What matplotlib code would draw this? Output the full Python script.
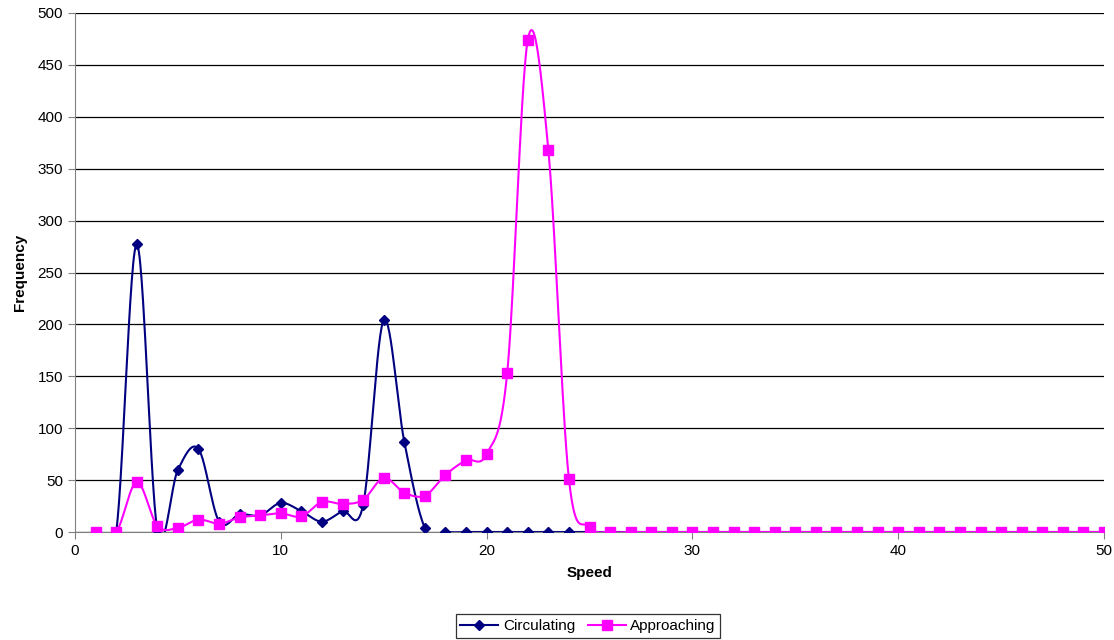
import numpy as np
import matplotlib
matplotlib.use("Agg")
import matplotlib.pyplot as plt

plt.rcParams['font.family'] = ['Liberation Sans', 'DejaVu Sans']

speed = list(range(1, 51))
circulating = [0, 0, 277, 2, 60, 80, 10, 17, 16, 28, 20, 10, 20, 26, 204, 87, 4] + [0] * 33
approaching = [0, 0, 48, 6, 4, 12, 8, 14, 16, 18, 15, 29, 27, 31, 52, 38, 35, 55, 69, 75,
               153, 474, 368, 51, 5] + [0] * 25
x_ticks = [0, 10, 20, 30, 40, 50]
y_ticks = list(range(0, 501, 50))


def smooth(xs, ys, n=30):
    xs = np.asarray(xs, float)
    ys = np.asarray(ys, float)
    px = np.concatenate([[xs[0]], xs, [xs[-1]]])
    py = np.concatenate([[ys[0]], ys, [ys[-1]]])
    ox, oy = [], []
    t = np.linspace(0, 1, n)
    for i in range(1, len(px) - 2):
        p0 = np.array([px[i], py[i]])
        p3 = np.array([px[i + 1], py[i + 1]])
        c1 = p0 + (np.array([px[i + 1], py[i + 1]]) - np.array([px[i - 1], py[i - 1]])) / 6
        c2 = p3 - (np.array([px[i + 2], py[i + 2]]) - np.array([px[i], py[i]])) / 6
        b = ((1 - t) ** 3)[:, None] * p0 + (3 * (1 - t) ** 2 * t)[:, None] * c1 + \
            (3 * (1 - t) * t ** 2)[:, None] * c2 + (t ** 3)[:, None] * p3
        ox.extend(b[:, 0])
        oy.extend(b[:, 1])
    return ox, oy


fig = plt.figure(figsize=(11.14, 6.4), dpi=100)
ax = fig.add_axes([75 / 1114, 1 - 532 / 640, (1104 - 75) / 1114, (532 - 13) / 640])

for v in y_ticks:
    ax.axhline(v, color='black', lw=0.9, zorder=0)

sx, sy = smooth(speed, circulating)
ax.plot(sx, sy, color='#000080', lw=1.5, zorder=2)
ax.plot(speed, circulating, ls='none', marker='D', ms=5.5, color='#000080', zorder=3)

sx, sy = smooth(speed, approaching)
ax.plot(sx, sy, color='#FF00FF', lw=1.5, zorder=4)
ax.plot(speed, approaching, ls='none', marker='s', ms=7, color='#FF00FF', zorder=5)

l1, = ax.plot([], [], color='#000080', lw=1.5, marker='D', ms=5.5, label='Circulating')
l2, = ax.plot([], [], color='#FF00FF', lw=1.5, marker='s', ms=7, label='Approaching')

ax.set_xlim(0, 50)
ax.set_ylim(0, 500)
ax.set_xticks(x_ticks)
ax.set_yticks(y_ticks)
ax.tick_params(labelsize=11, direction='out', length=5, color='#808080')
for s in ['top', 'right']:
    ax.spines[s].set_visible(False)
for s in ['left', 'bottom']:
    ax.spines[s].set_color('#808080')
ax.set_xlabel('Speed', fontsize=11, fontweight='bold', labelpad=6)
ax.set_ylabel('Frequency', fontsize=11, fontweight='bold', labelpad=8)

leg = fig.legend([l1, l2], ['Circulating', 'Approaching'], loc='center',
                 bbox_to_anchor=(588 / 1114, 1 - 626 / 640),
                 ncol=2, fontsize=11, frameon=True, fancybox=False, edgecolor='black',
                 handlelength=2.5, columnspacing=0.8, handletextpad=0.3, borderpad=0.3)
leg.get_frame().set_linewidth(0.9)

fig.savefig('out.png', dpi=100)
